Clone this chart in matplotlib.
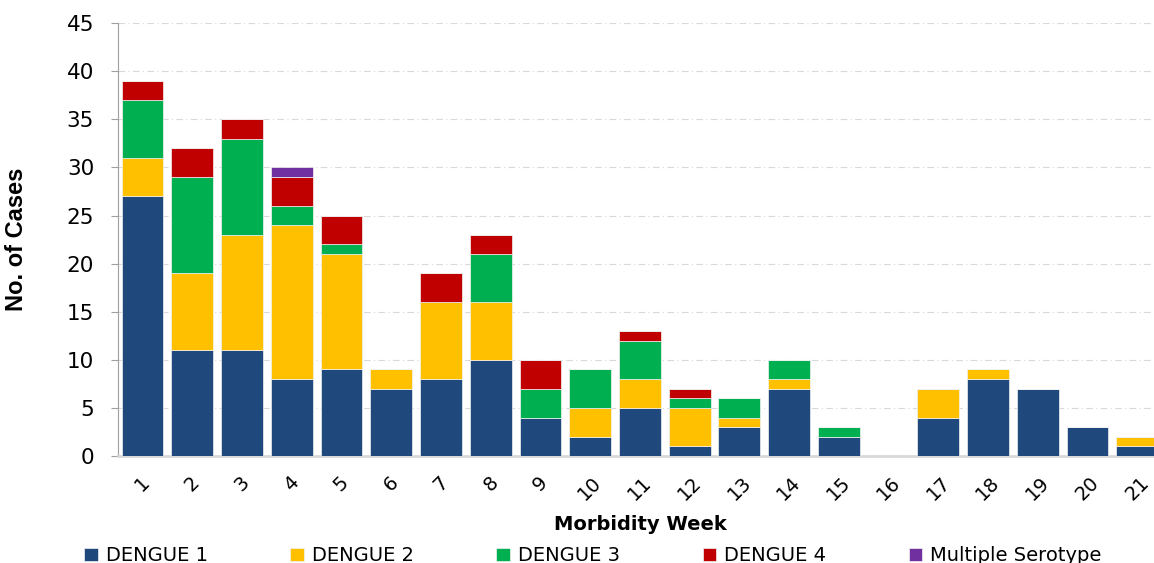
import numpy as np
import matplotlib
matplotlib.use("Agg")
from matplotlib import pyplot as plt

weeks = [str(w) for w in range(1, 22)]
dengue1 = [27, 11, 11, 8, 9, 7, 8, 10, 4, 2, 5, 1, 3, 7, 2, 0, 4, 8, 7, 3, 1]
dengue2 = [4, 8, 12, 16, 12, 2, 8, 6, 0, 3, 3, 4, 1, 1, 0, 0, 3, 1, 0, 0, 1]
dengue3 = [6, 10, 10, 2, 1, 0, 0, 5, 3, 4, 4, 1, 2, 2, 1, 0, 0, 0, 0, 0, 0]
dengue4 = [2, 3, 2, 3, 3, 0, 3, 2, 3, 0, 1, 1, 0, 0, 0, 0, 0, 0, 0, 0, 0]
multiple = [0, 0, 0, 1, 0, 0, 0, 0, 0, 0, 0, 0, 0, 0, 0, 0, 0, 0, 0, 0, 0]

series = [("DENGUE 1", dengue1, "#1F497D"),
          ("DENGUE 2", dengue2, "#FFC000"),
          ("DENGUE 3", dengue3, "#00B050"),
          ("DENGUE 4", dengue4, "#C00000"),
          ("Multiple Serotype", multiple, "#7030A0")]

fig = plt.figure(figsize=(11.54, 5.63), dpi=100)
ax = fig.add_axes([0.102, 0.19, 0.905, 0.769])

x = np.arange(1, 22)
bottom = np.zeros(len(x))
for name, vals, col in series:
    vals = np.array(vals, dtype=float)
    ax.bar(x, vals, 0.84, bottom=bottom, color=col, label=name,
           edgecolor="#F2F2F2", linewidth=0.5, zorder=3)
    bottom += vals

ax.set_xlim(0.5, 21.5)
ax.set_ylim(0, 45)
ax.set_yticks(range(0, 46, 5))
ax.set_xticks(x)
ax.set_xticklabels(weeks, rotation=45, ha="center", fontsize=14)
ax.tick_params(axis="y", labelsize=15.5, length=5, color="#A0A0A0", pad=12)
ax.tick_params(axis="x", length=0, pad=12)
ax.yaxis.grid(True, linestyle=(0, (6, 3, 1, 3)), color="#D9D9D9", linewidth=0.8, zorder=0)

for s in ["top", "right"]:
    ax.spines[s].set_visible(False)
ax.spines["left"].set_color("#A0A0A0")
ax.spines["bottom"].set_color("#D9D9D9")
ax.spines["bottom"].set_linewidth(2)

ax.set_ylabel("No. of Cases", fontsize=17, fontweight="bold",
              family="Liberation Sans", labelpad=28)
ax.set_xlabel("Morbidity Week", fontsize=14, fontweight="bold", labelpad=8)

fig.legend(loc="lower left", bbox_to_anchor=(0.058, -0.035), ncol=5, frameon=False,
           fontsize=14, handlelength=0.7, handleheight=0.7, handletextpad=0.4,
           columnspacing=4.25)

fig.savefig("out.png", dpi=100)
